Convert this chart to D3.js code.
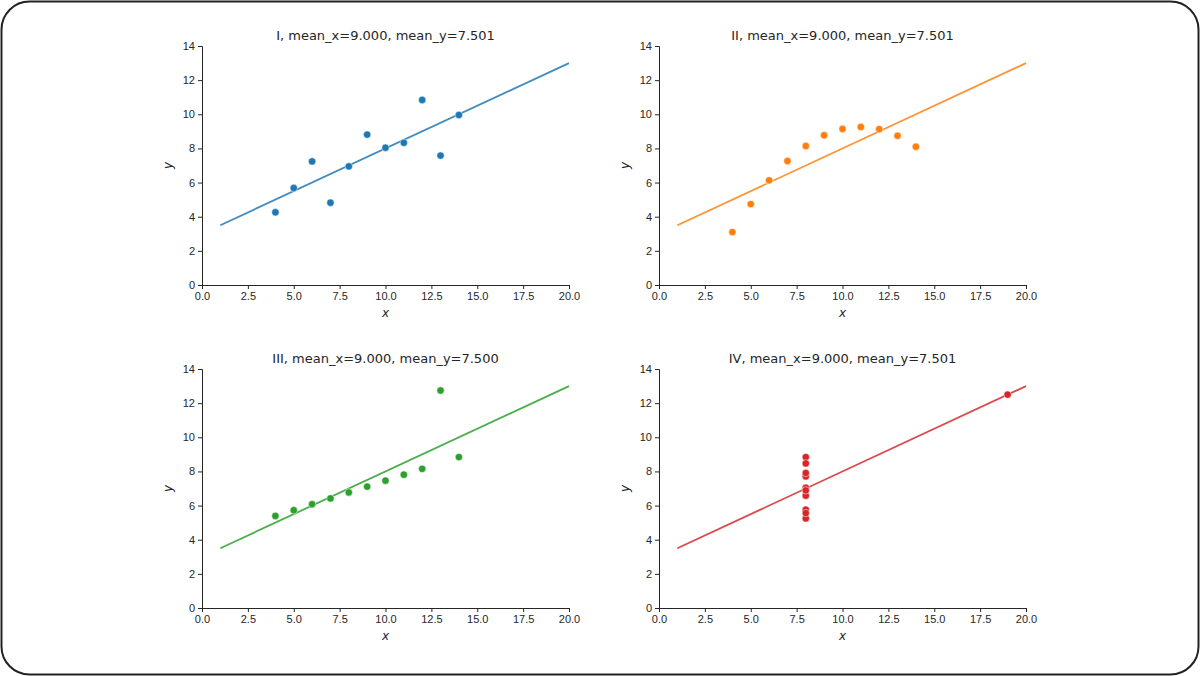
<!DOCTYPE html>
<html>
<head>
<meta charset="utf-8">
<script src="https://cdn.jsdelivr.net/npm/d3@7"></script>
<style>
  body { margin: 0; background: #fff; font-family: "DejaVu Sans", sans-serif; }
  .tick text { fill: #262626; font-size: 11px; }
  .domain, .tick line { stroke: #262626; }
</style>
</head>
<body>
<svg id="chart" width="1200" height="676"></svg>
<script>
// Anscombe's quartet
var xs123 = [10, 8, 13, 9, 11, 14, 6, 4, 12, 7, 5];
var y1 = [8.04, 6.95, 7.58, 8.81, 8.33, 9.96, 7.24, 4.26, 10.84, 4.82, 5.68];
var y2 = [9.14, 8.14, 8.74, 8.77, 9.26, 8.10, 6.13, 3.10, 9.13, 7.26, 4.74];
var y3 = [7.46, 6.77, 12.74, 7.11, 7.81, 8.84, 6.08, 5.39, 8.15, 6.42, 5.73];
var x4 = [8, 8, 8, 8, 8, 8, 8, 19, 8, 8, 8];
var y4 = [6.58, 5.76, 7.71, 8.84, 8.47, 7.04, 5.25, 12.50, 5.56, 7.91, 6.89];
var titles = ["I, mean_x=9.000, mean_y=7.501", "II, mean_x=9.000, mean_y=7.501",
              "III, mean_x=9.000, mean_y=7.500", "IV, mean_x=9.000, mean_y=7.501"];
var colors = ["#1f77b4", "#ff7f0e", "#2ca02c", "#d62728"];
var fitX = [1, 20];  // fit line y = 3 + 0.5x
var xTicks = [0, 2.5, 5, 7.5, 10, 12.5, 15, 17.5, 20];
var yTicks = [0, 2, 4, 6, 8, 10, 12, 14];

var sets = [
  {x: xs123, y: y1}, {x: xs123, y: y2}, {x: xs123, y: y3}, {x: x4, y: y4}
];

var svg = d3.select("#chart");

// outer frame
svg.append("rect")
  .attr("x", 1.5).attr("y", 1.5)
  .attr("width", 1197).attr("height", 673)
  .attr("rx", 28).attr("ry", 28)
  .attr("fill", "none").attr("stroke", "#222").attr("stroke-width", 2);

var panelW = 367, panelH = 239;
var origins = [[202, 46], [659, 46], [202, 369], [659, 369]];

sets.forEach(function(s, i) {
  var g = svg.append("g")
    .attr("transform", "translate(" + origins[i][0] + "," + origins[i][1] + ")");

  var x = d3.scaleLinear().domain([0, 20]).range([0, panelW]);
  var y = d3.scaleLinear().domain([0, 14]).range([panelH, 0]);

  g.append("g")
    .attr("transform", "translate(0," + panelH + ")")
    .call(d3.axisBottom(x).tickValues(xTicks).tickSize(4).tickPadding(3)
      .tickFormat(d3.format(".1f")));
  g.append("g")
    .call(d3.axisLeft(y).tickValues(yTicks).tickSize(4).tickPadding(3));

  g.append("text")
    .attr("x", panelW / 2).attr("y", -6)
    .attr("text-anchor", "middle")
    .style("font-size", "13px").style("fill", "#262626")
    .text(titles[i]);

  g.append("text")
    .attr("x", panelW / 2).attr("y", panelH + 32)
    .attr("text-anchor", "middle")
    .style("font-size", "12px").style("font-style", "italic").style("fill", "#262626")
    .text("x");

  g.append("text")
    .attr("transform", "translate(-30," + panelH / 2 + ") rotate(-90)")
    .attr("text-anchor", "middle")
    .style("font-size", "12px").style("font-style", "italic").style("fill", "#262626")
    .text("y");

  var line = d3.line()
    .x(function(d) { return x(d); })
    .y(function(d) { return y(3 + 0.5 * d); });
  g.append("path")
    .datum(fitX)
    .attr("d", line)
    .attr("fill", "none")
    .attr("stroke", colors[i])
    .attr("stroke-opacity", 0.85)
    .attr("stroke-width", 1.8);

  g.selectAll("circle")
    .data(s.x.map(function(d, k) { return [d, s.y[k]]; }))
    .enter().append("circle")
    .attr("cx", function(d) { return x(d[0]); })
    .attr("cy", function(d) { return y(d[1]); })
    .attr("r", 3.7)
    .attr("fill", colors[i])
    .attr("stroke", "#fff")
    .attr("stroke-width", 0.5);
});
</script>
</body>
</html>
